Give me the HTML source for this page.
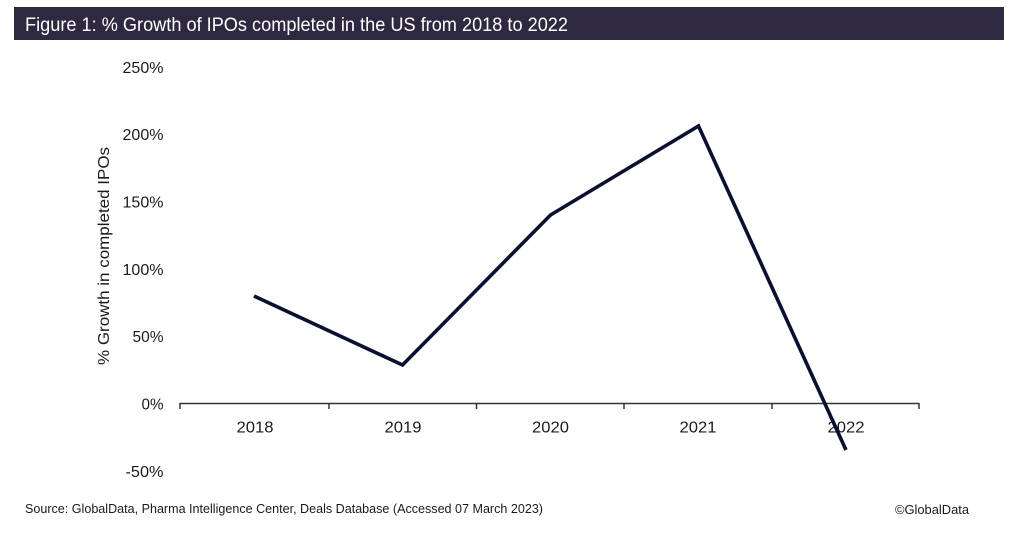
<!DOCTYPE html>
<html>
<head>
<meta charset="utf-8">
<style>
html,body{margin:0;padding:0;background:#fff;}
svg{display:block;}
text{font-family:"Liberation Sans",Arial,sans-serif;}
</style>
</head>
<body>
<svg width="1009" height="537" viewBox="0 0 1009 537" xmlns="http://www.w3.org/2000/svg">
  <rect x="0" y="0" width="1009" height="537" fill="#ffffff"/>
  <!-- Header -->
  <rect x="14" y="7" width="990" height="33" fill="#2e2940"/>
  <text x="25" y="31" font-size="19.5" fill="#ffffff" textLength="543" lengthAdjust="spacingAndGlyphs">Figure 1: % Growth of IPOs completed in the US from 2018 to 2022</text>

  <!-- Y tick labels -->
  <g font-size="15.5" fill="#1a1a1a" text-anchor="end">
    <text x="163.5" y="73" textLength="41" lengthAdjust="spacingAndGlyphs">250%</text>
    <text x="163.5" y="140" textLength="41" lengthAdjust="spacingAndGlyphs">200%</text>
    <text x="163.5" y="207.5" textLength="41" lengthAdjust="spacingAndGlyphs">150%</text>
    <text x="163.5" y="275" textLength="41" lengthAdjust="spacingAndGlyphs">100%</text>
    <text x="163.5" y="342" textLength="31" lengthAdjust="spacingAndGlyphs">50%</text>
    <text x="163.5" y="409.5" textLength="22" lengthAdjust="spacingAndGlyphs">0%</text>
    <text x="163.5" y="477" textLength="38" lengthAdjust="spacingAndGlyphs">-50%</text>
  </g>

  <!-- Y axis title -->
  <text transform="translate(109,256) rotate(-90)" font-size="15.5" fill="#1a1a1a" text-anchor="middle" textLength="218" lengthAdjust="spacingAndGlyphs">% Growth in completed IPOs</text>

  <!-- X axis -->
  <g stroke="#333333" stroke-width="1.5" fill="none">
    <line x1="180" y1="403.5" x2="919" y2="403.5"/>
    <line x1="180" y1="403" x2="180" y2="409"/>
    <line x1="329" y1="403" x2="329" y2="409"/>
    <line x1="476.5" y1="403" x2="476.5" y2="409"/>
    <line x1="624" y1="403" x2="624" y2="409"/>
    <line x1="772" y1="403" x2="772" y2="409"/>
    <line x1="919" y1="403" x2="919" y2="409"/>
  </g>

  <!-- X tick labels -->
  <g font-size="15.5" fill="#1a1a1a" text-anchor="middle">
    <text x="255" y="432.5" textLength="37" lengthAdjust="spacingAndGlyphs">2018</text>
    <text x="403" y="432.5" textLength="37" lengthAdjust="spacingAndGlyphs">2019</text>
    <text x="550.5" y="432.5" textLength="37" lengthAdjust="spacingAndGlyphs">2020</text>
    <text x="698" y="432.5" textLength="37" lengthAdjust="spacingAndGlyphs">2021</text>
    <text x="846" y="432.5" textLength="37" lengthAdjust="spacingAndGlyphs">2022</text>
  </g>

  <!-- Series line -->
  <polyline points="254,296 402.5,365 550.5,215 698.5,126 846,450" fill="none" stroke="#0c1030" stroke-width="3.6" stroke-linejoin="miter" stroke-linecap="butt"/>

  <!-- Footer -->
  <text x="25" y="513" font-size="13" fill="#1a1a1a" textLength="518" lengthAdjust="spacingAndGlyphs">Source: GlobalData, Pharma Intelligence Center, Deals Database (Accessed 07 March 2023)</text>
  <text x="895" y="514" font-size="13" fill="#1a1a1a" textLength="74" lengthAdjust="spacingAndGlyphs">©GlobalData</text>
</svg>
</body>
</html>
